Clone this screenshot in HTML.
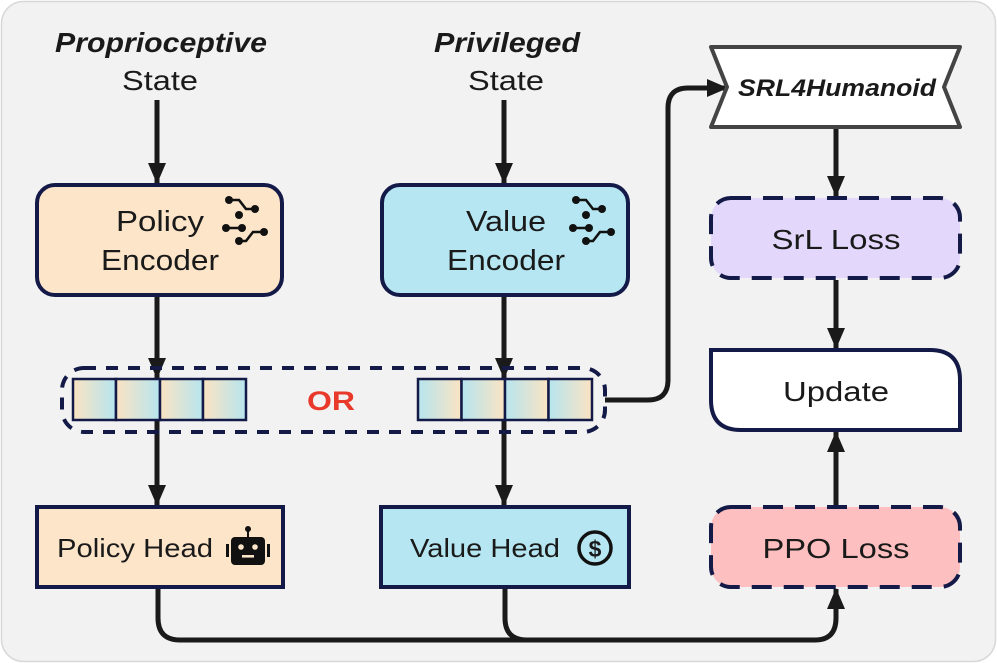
<!DOCTYPE html>
<html><head><style>body{margin:0;background:#fff}svg{display:block}text{font-family:"Liberation Sans",Arial,sans-serif;fill:#1a1a1a}</style></head><body>
<svg width="997" height="663" viewBox="0 0 997 663" xmlns="http://www.w3.org/2000/svg">
<defs>
<marker id="a" markerWidth="22" markerHeight="22" refX="20" refY="11" orient="auto" markerUnits="userSpaceOnUse"><path d="M0,2 L21,11 L0,20z" fill="#1a1a1a"/></marker>
<linearGradient id="g1" x1="0" x2="1"><stop offset="0" stop-color="#fbe3c2"/><stop offset="1" stop-color="#b6e5ef"/></linearGradient>
<linearGradient id="g2" x1="0" x2="1"><stop offset="0" stop-color="#b6e5ef"/><stop offset="1" stop-color="#fbe3c2"/></linearGradient>
</defs>
<rect x="1.5" y="1.5" width="994" height="660" rx="22" fill="#f2f2f2" stroke="#d8d8d8" stroke-width="1.5"/>
<g font-size="28" text-anchor="middle">
<text x="161" y="52" font-style="italic" font-weight="bold" textLength="212" lengthAdjust="spacingAndGlyphs">Proprioceptive</text>
<text x="160" y="90" textLength="76" lengthAdjust="spacingAndGlyphs">State</text>
<text x="507" y="52" font-style="italic" font-weight="bold" textLength="146" lengthAdjust="spacingAndGlyphs">Privileged</text>
<text x="506" y="90" textLength="76" lengthAdjust="spacingAndGlyphs">State</text>
</g>
<g stroke="#1a1a1a" stroke-width="5" fill="none">
<line x1="157" y1="100" x2="157" y2="183" marker-end="url(#a)"/>
<line x1="504" y1="100" x2="504" y2="183" marker-end="url(#a)"/>
<line x1="157" y1="297" x2="157" y2="378" marker-end="url(#a)"/>
<line x1="504" y1="297" x2="504" y2="378" marker-end="url(#a)"/>
<line x1="157" y1="420" x2="157" y2="505" marker-end="url(#a)"/>
<line x1="504" y1="420" x2="504" y2="505" marker-end="url(#a)"/>
<path d="M605,400 H648 Q668,400 668,380 V108 Q668,88 688,88 H727" marker-end="url(#a)"/>
<line x1="836" y1="127" x2="836" y2="196" marker-end="url(#a)"/>
<line x1="836" y1="280" x2="836" y2="348" marker-end="url(#a)"/>
<line x1="836" y1="507" x2="836" y2="432" marker-end="url(#a)"/>
<path d="M158,588 V618 Q158,640 180,640 H815 Q836,640 836,618 V589" marker-end="url(#a)"/>
<path d="M505,588 V618 Q505,640 527,640"/>
</g>
<rect x="37" y="185" width="245" height="110" rx="18" fill="#fde5c9" stroke="#141a47" stroke-width="4"/>
<rect x="382" y="185" width="246" height="110" rx="18" fill="#b5e6f2" stroke="#141a47" stroke-width="4"/>
<g font-size="29" text-anchor="middle">
<text x="160" y="231" textLength="88" lengthAdjust="spacingAndGlyphs">Policy</text><text x="160" y="270" textLength="118" lengthAdjust="spacingAndGlyphs">Encoder</text>
<text x="506" y="231" textLength="80" lengthAdjust="spacingAndGlyphs">Value</text><text x="506" y="270" textLength="118" lengthAdjust="spacingAndGlyphs">Encoder</text>
</g>
<g id="net" stroke="#111" stroke-width="2.6" fill="none">
<path d="M229,200 h10 l7,9 h9"/><path d="M226,228 h16 M239,241 h7 l7,-9 h10"/>
<g fill="#111" stroke="none"><circle cx="229" cy="200" r="4"/><circle cx="255" cy="209" r="4"/><circle cx="239" cy="215" r="4"/><circle cx="226" cy="228" r="4"/><circle cx="242" cy="228" r="4"/><circle cx="239" cy="241" r="4"/><circle cx="264" cy="232" r="4"/></g>
</g>
<use href="#net" x="347" y="0"/>
<rect x="62" y="368" width="543" height="64" rx="22" fill="none" stroke="#141a47" stroke-width="4" stroke-dasharray="12,10"/>
<g stroke="#141a47" stroke-width="2.5" fill="url(#g1)">
<rect x="73" y="379" width="43" height="41"/><rect x="116" y="379" width="44" height="41"/><rect x="160" y="379" width="43" height="41"/><rect x="203" y="379" width="43" height="41"/>
</g>
<g stroke="#141a47" stroke-width="2.5" fill="url(#g2)">
<rect x="418" y="379" width="43.5" height="41"/><rect x="461.5" y="379" width="43.5" height="41"/><rect x="505" y="379" width="43.5" height="41"/><rect x="548.5" y="379" width="43.5" height="41"/>
</g>
<text x="331" y="410" font-size="27" font-weight="bold" text-anchor="middle" style="fill:#e8392a" textLength="48" lengthAdjust="spacingAndGlyphs">OR</text>
<rect x="37" y="507" width="246" height="80" fill="#fde5c9" stroke="#141a47" stroke-width="4"/>
<rect x="381" y="507" width="248" height="80" fill="#b5e6f2" stroke="#141a47" stroke-width="4"/>
<text x="135" y="557" font-size="26" text-anchor="middle" textLength="156" lengthAdjust="spacingAndGlyphs">Policy Head</text>
<text x="485" y="557" font-size="26" text-anchor="middle" textLength="150" lengthAdjust="spacingAndGlyphs">Value Head</text>
<g fill="#111"><rect x="231" y="537" width="34" height="28" rx="4"/><rect x="247" y="529" width="2" height="9"/><circle cx="248" cy="529" r="3"/><rect x="226" y="544" width="3" height="13"/><rect x="267" y="544" width="3" height="13"/></g>
<g fill="#fde5c9"><circle cx="241" cy="547" r="2.8"/><circle cx="255" cy="547" r="2.8"/><rect x="242" y="555" width="12" height="2.6"/></g>
<circle cx="595" cy="548" r="16" fill="none" stroke="#111" stroke-width="3.5"/>
<text x="595" y="557" font-size="23" font-weight="bold" text-anchor="middle">$</text>
<path d="M711,47 H960 L944,87 L960,127 H711 L727,87 Z" fill="#fff" stroke="#444" stroke-width="4" stroke-linejoin="round"/>
<text x="837" y="96" font-size="24" font-style="italic" font-weight="bold" text-anchor="middle" textLength="198" lengthAdjust="spacingAndGlyphs">SRL4Humanoid</text>
<rect x="711" y="198" width="249" height="80" rx="20" fill="#e3d8fb" stroke="#141a47" stroke-width="4" stroke-dasharray="20,12"/>
<text x="836" y="249" font-size="28" text-anchor="middle" textLength="129" lengthAdjust="spacingAndGlyphs">SrL Loss</text>
<path d="M711,350 H930 Q960,350 960,380 V430 H741 Q711,430 711,400 Z" fill="#fff" stroke="#141a47" stroke-width="4"/>
<text x="836" y="401" font-size="28" text-anchor="middle" textLength="106" lengthAdjust="spacingAndGlyphs">Update</text>
<rect x="711" y="507" width="249" height="80" rx="20" fill="#fdbfbf" stroke="#141a47" stroke-width="4" stroke-dasharray="20,12"/>
<text x="836" y="558" font-size="28" text-anchor="middle" textLength="147" lengthAdjust="spacingAndGlyphs">PPO Loss</text>
</svg>
</body></html>
